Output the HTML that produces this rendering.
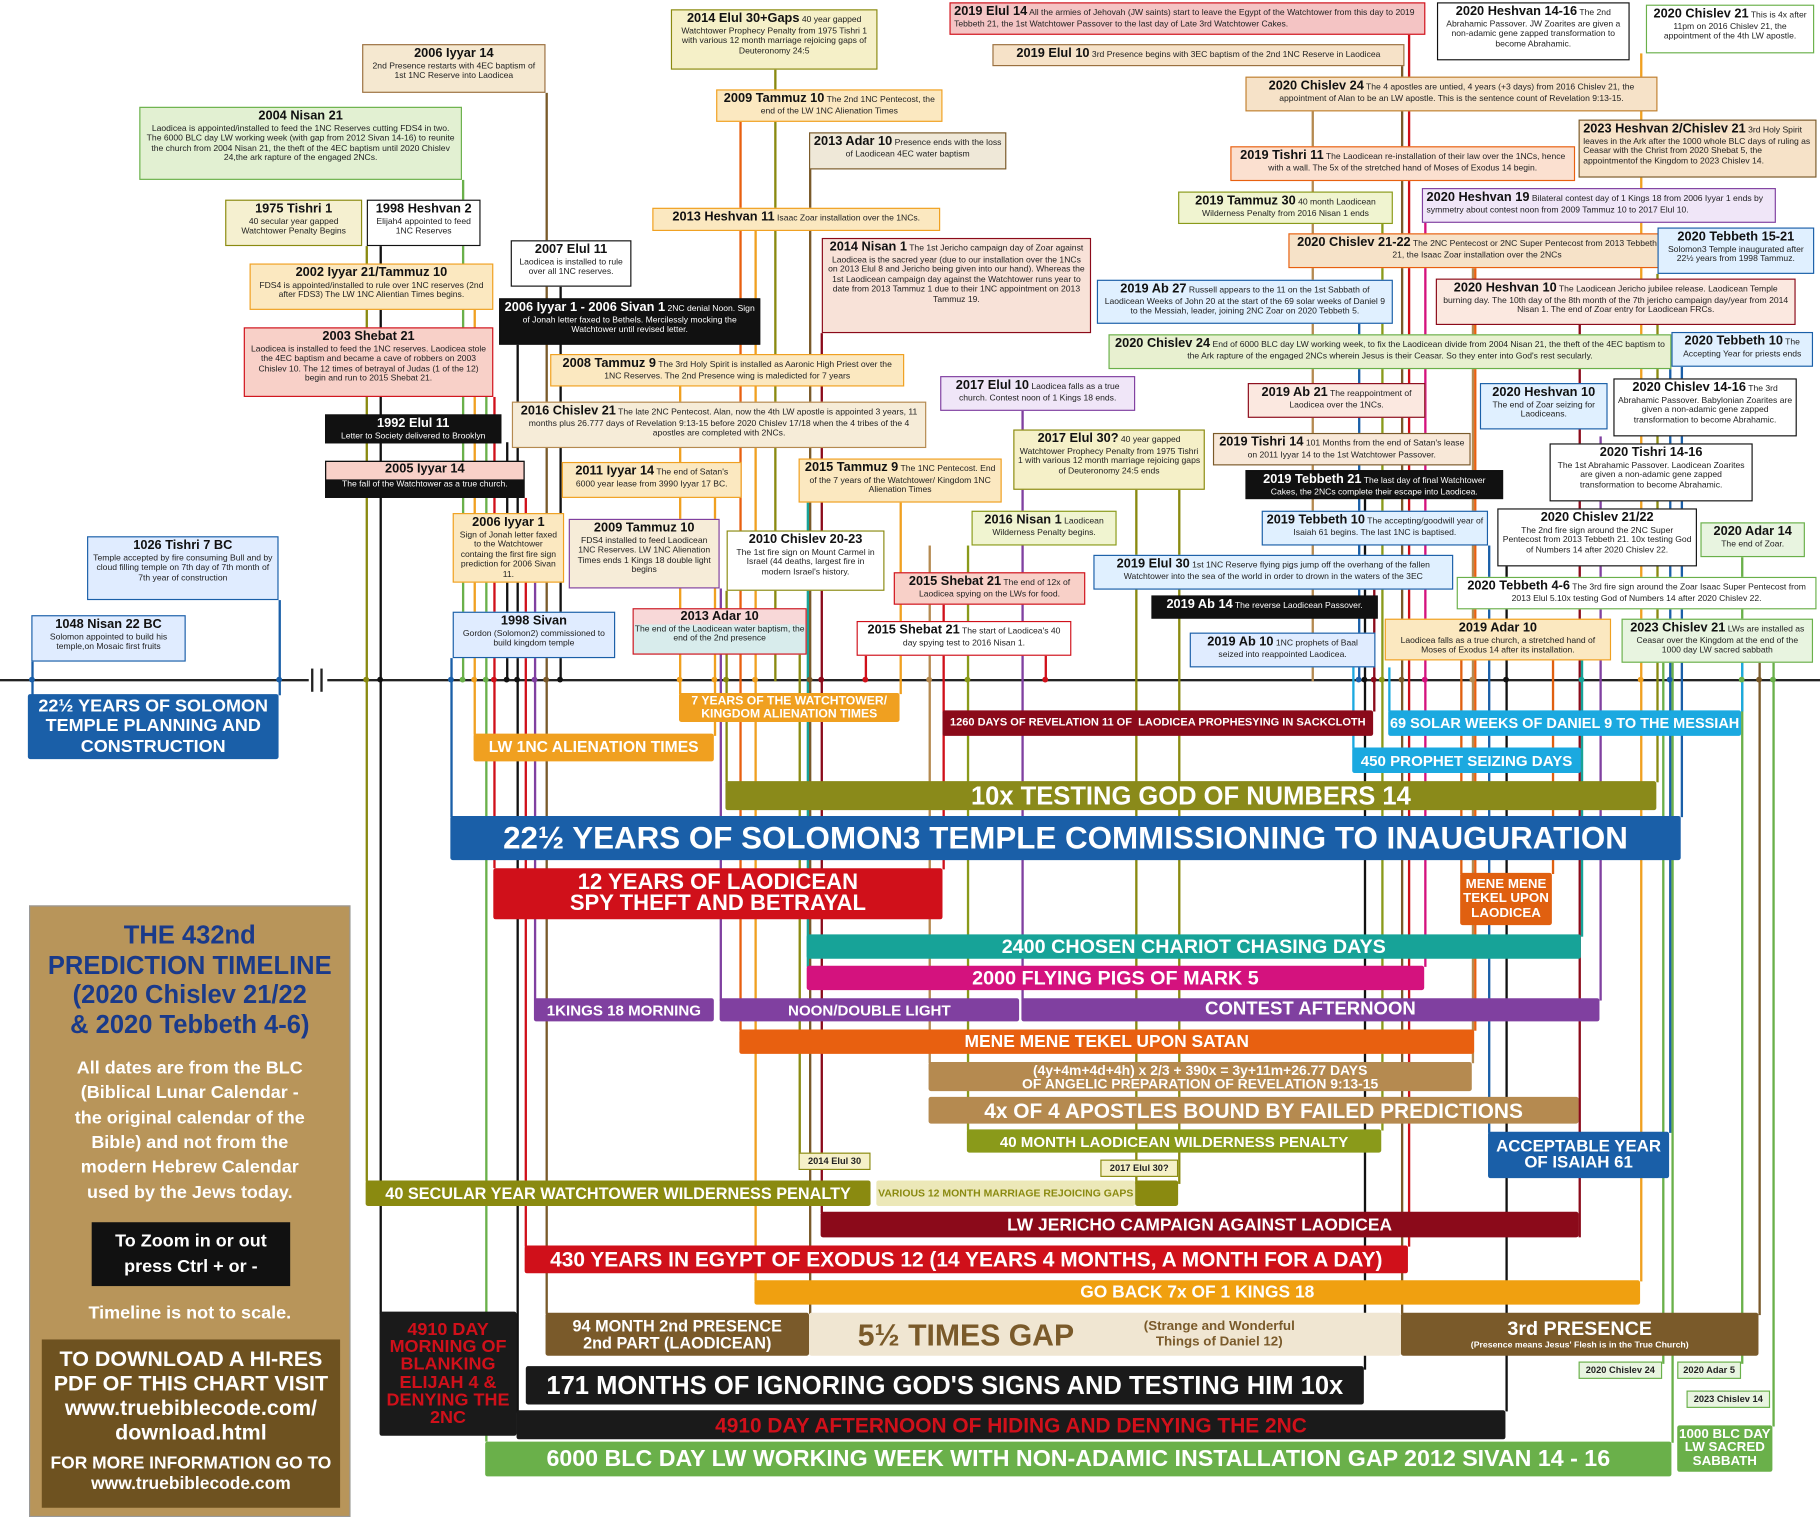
<!DOCTYPE html>
<html><head><meta charset="utf-8">
<style>
html,body{margin:0;padding:0;background:#fff;overflow:hidden;width:1820px;height:1517px}
#s{position:absolute;left:0;top:0;width:1568px;height:1307px;transform:scale(1.16071);transform-origin:0 0;font-family:"Liberation Sans",sans-serif}
.b{position:absolute;border:1.5px solid #888;font-size:7.4px;text-align:center;line-height:1.16;padding:1px 3px;box-sizing:border-box;overflow:hidden;color:#222;z-index:3}
.b b{font-size:11px;color:#111}
.k{background:#111;color:#fff;border-color:#111}.k b{color:#fff}
.r{position:absolute;color:#fff;font-weight:bold;text-align:center;z-index:2;display:flex;align-items:center;justify-content:center;line-height:1;white-space:nowrap;border-radius:2px}
.v{position:absolute;width:1.5px;z-index:1}
.d{position:absolute;width:5px;height:5px;border-radius:50%;z-index:2;margin-left:-2px;top:583px}
</style></head><body><div id="s">

<!-- baseline -->
<div style="position:absolute;left:0;top:585px;width:266px;height:1.5px;background:#222"></div>
<div style="position:absolute;left:282px;top:585px;width:1286px;height:1.5px;background:#222"></div>
<div style="position:absolute;left:268px;top:576px;width:1.5px;height:20px;background:#222"></div>
<div style="position:absolute;left:276px;top:576px;width:1.5px;height:20px;background:#222"></div>

<!-- vertical connectors -->
<div class="v" style="left:27px;top:570px;height:30px;background:#1a5fa8"></div>
<div class="v" style="left:240px;top:517px;height:82px;background:#1a5fa8"></div>
<div class="v" style="left:315px;top:212px;height:806px;background:#8a8a10"></div>
<div class="v" style="left:327px;top:212px;height:920px;background:#111"></div>
<div class="v" style="left:388px;top:567px;height:137px;background:#1a5fa8"></div>
<div class="v" style="left:398px;top:155px;height:432px;background:#6ab04a"></div>
<div class="v" style="left:408px;top:267px;height:366px;background:#f0a020"></div>
<div class="v" style="left:418px;top:342px;height:900px;background:#6ab04a"></div>
<div class="v" style="left:425px;top:342px;height:406px;background:#d0101a"></div>
<div class="v" style="left:436px;top:381px;height:206px;background:#111"></div>
<div class="v" style="left:445px;top:297px;height:920px;background:#111"></div>
<div class="v" style="left:452px;top:429px;height:645px;background:#d0101a"></div>
<div class="v" style="left:460px;top:502px;height:360px;background:#8040a0"></div>
<div class="v" style="left:470px;top:80px;height:1052px;background:#7a5a2a"></div>
<div class="v" style="left:482px;top:247px;height:340px;background:#111"></div>
<div class="v" style="left:585px;top:333px;height:265px;background:#f0a020"></div>
<div class="v" style="left:615px;top:429px;height:205px;background:#f0a020"></div>
<div class="v" style="left:620px;top:507px;height:355px;background:#8040a0"></div>
<div class="v" style="left:625px;top:509px;height:165px;background:#8a8a10"></div>
<div class="v" style="left:637px;top:105px;height:783px;background:#e86010"></div>
<div class="v" style="left:650px;top:199px;height:905px;background:#f0a020"></div>
<div class="v" style="left:667px;top:60px;height:527px;background:#8a8a10"></div>
<div class="v" style="left:688px;top:564px;height:435px;background:#8a8a10"></div>
<div class="v" style="left:695px;top:433px;height:400px;background:#17a398"></div>
<div class="v" style="left:697px;top:146px;height:986px;background:#7a5a2a"></div>
<div class="v" style="left:707px;top:287px;height:758px;background:#8b0a1a"></div>
<div class="v" style="left:745px;top:565px;height:22px;background:#d0101a"></div>
<div class="v" style="left:775px;top:433px;height:165px;background:#f0a020"></div>
<div class="v" style="left:800px;top:470px;height:446px;background:#b58a50"></div>
<div class="v" style="left:812px;top:521px;height:228px;background:#d0101a"></div>
<div class="v" style="left:833px;top:470px;height:504px;background:#8a9a1a"></div>
<div class="v" style="left:880px;top:354px;height:508px;background:#8040a0"></div>
<div class="v" style="left:900px;top:565px;height:22px;background:#d0101a"></div>
<div class="v" style="left:978px;top:422px;height:598px;background:#8a8a10"></div>
<div class="v" style="left:1015px;top:422px;height:598px;background:#8a8a10"></div>
<div class="v" style="left:1130px;top:96px;height:491px;background:#b58a50"></div>
<div class="v" style="left:1165px;top:575px;height:70px;background:#1ba9e0"></div>
<div class="v" style="left:1170px;top:279px;height:308px;background:#1a5fa8"></div>
<div class="v" style="left:1175px;top:430px;height:750px;background:#111"></div>
<div class="v" style="left:1183px;top:508px;height:105px;background:#8b0a1a"></div>
<div class="v" style="left:1190px;top:193px;height:781px;background:#8a9a1a"></div>
<div class="v" style="left:1196px;top:575px;height:38px;background:#1ba9e0"></div>
<div class="v" style="left:1207px;top:56px;height:1076px;background:#7a5a2a"></div>
<div class="v" style="left:1213px;top:30px;height:1044px;background:#d0101a"></div>
<div class="v" style="left:1227px;top:192px;height:641px;background:#d4127e"></div>
<div class="v" style="left:1258px;top:569px;height:184px;background:#e06010"></div>
<div class="v" style="left:1268px;top:231px;height:685px;background:#b58a50"></div>
<div class="v" style="left:1270px;top:231px;height:657px;background:#e86010"></div>
<div class="v" style="left:1282px;top:470px;height:506px;background:#1a5fa8"></div>
<div class="v" style="left:1297px;top:488px;height:728px;background:#111"></div>
<div class="v" style="left:1337px;top:569px;height:184px;background:#e06010"></div>
<div class="v" style="left:1360px;top:280px;height:786px;background:#8b0a1a"></div>
<div class="v" style="left:1362px;top:569px;height:238px;background:#17a398"></div>
<div class="v" style="left:1378px;top:376px;height:486px;background:#8040a0"></div>
<div class="v" style="left:1413px;top:46px;height:1058px;background:#f0a020"></div>
<div class="v" style="left:1427px;top:236px;height:438px;background:#8a8a10"></div>
<div class="v" style="left:1432px;top:571px;height:604px;background:#6ab04a"></div>
<div class="v" style="left:1438px;top:318px;height:658px;background:#1a5fa8"></div>
<div class="v" style="left:1440px;top:571px;height:672px;background:#6ab04a"></div>
<div class="v" style="left:1448px;top:316px;height:388px;background:#1a5fa8"></div>
<div class="v" style="left:1500px;top:480px;height:695px;background:#6ab04a"></div>
<div class="v" style="left:1515px;top:571px;height:562px;background:#7a5a2a"></div>
<div class="v" style="left:1527px;top:571px;height:658px;background:#6ab04a"></div>
<div class="v" style="left:1500px;top:571px;height:42px;background:#1ba9e0"></div>

<!-- dots -->
<div class="d" style="left:27px;background:#1a5fa8"></div><div class="d" style="left:240px;background:#1a5fa8"></div>
<div class="d" style="left:315px;background:#8a8a10"></div><div class="d" style="left:327px;background:#111"></div>
<div class="d" style="left:388px;background:#1a5fa8"></div><div class="d" style="left:398px;background:#6ab04a"></div>
<div class="d" style="left:408px;background:#f0a020"></div><div class="d" style="left:418px;background:#6ab04a"></div>
<div class="d" style="left:425px;background:#d0101a"></div><div class="d" style="left:436px;background:#111"></div>
<div class="d" style="left:445px;background:#111"></div><div class="d" style="left:460px;background:#8040a0"></div>
<div class="d" style="left:470px;background:#7a5a2a"></div><div class="d" style="left:482px;background:#111"></div>
<div class="d" style="left:585px;background:#f0a020"></div><div class="d" style="left:615px;background:#f0a020"></div>
<div class="d" style="left:625px;background:#8a8a10"></div><div class="d" style="left:650px;background:#f0a020"></div>
<div class="d" style="left:697px;background:#7a5a2a"></div><div class="d" style="left:707px;background:#8b0a1a"></div>
<div class="d" style="left:745px;background:#d0101a"></div><div class="d" style="left:800px;background:#b58a50"></div>
<div class="d" style="left:833px;background:#8a9a1a"></div><div class="d" style="left:900px;background:#d0101a"></div>
<div class="d" style="left:1170px;background:#1a5fa8"></div><div class="d" style="left:1175px;background:#111"></div>
<div class="d" style="left:1183px;background:#8b0a1a"></div><div class="d" style="left:1190px;background:#8a9a1a"></div>
<div class="d" style="left:1207px;background:#7a5a2a"></div><div class="d" style="left:1227px;background:#d4127e"></div>
<div class="d" style="left:1268px;background:#b58a50"></div><div class="d" style="left:1297px;background:#111"></div>
<div class="d" style="left:1362px;background:#17a398"></div><div class="d" style="left:1413px;background:#f0a020"></div>
<div class="d" style="left:1438px;background:#1a5fa8"></div><div class="d" style="left:1500px;background:#6ab04a"></div>
<div class="d" style="left:1515px;background:#7a5a2a"></div><div class="d" style="left:1527px;background:#6ab04a"></div>

<!-- top boxes -->
<div class="b" style="left:818px;top:2px;width:410px;height:28px;background:#f4c4c4;border-color:#d0101a;text-align:left"><b>2019 Elul 14</b> All the armies of Jehovah (JW saints) start to leave the Egypt of the Watchtower from this day to 2019 Tebbeth 21, the 1st Watchtower Passover to the last day of Late 3rd Watchtower Cakes.</div>
<div class="b" style="left:855px;top:38px;width:355px;height:19px;background:#f6e2c8;border-color:#9a7040"><b>2019 Elul 10</b> 3rd Presence begins with 3EC baptism of the 2nd 1NC Reserve in Laodicea</div>
<div class="b" style="left:1238px;top:2px;width:166px;height:50px;background:#fff;border-color:#111"><b>2020 Heshvan 14-16</b> The 2nd Abrahamic Passover. JW Zoarites are given a non-adamic gene zapped transformation to become Abrahamic.</div>
<div class="b" style="left:1418px;top:4px;width:145px;height:42px;background:#fff;border-color:#6ab04a"><b>2020 Chislev 21</b> This is 4x after 11pm on 2016 Chislev 21, the appointment of the 4th LW apostle.</div>
<div class="b" style="left:578px;top:8px;width:178px;height:52px;background:#f5f0c8;border-color:#8a8a10"><b>2014 Elul 30+Gaps</b> 40 year gapped Watchtower Prophecy Penalty from 1975 Tishri 1 with various 12 month marriage rejoicing gaps of Deuteronomy 24:5</div>
<div class="b" style="left:312px;top:38px;width:158px;height:42px;background:#f5e8d0;border-color:#9a7040"><b>2006 Iyyar 14</b><br>2nd Presence restarts with 4EC baptism of 1st 1NC Reserve into Laodicea</div>
<div class="b" style="left:120px;top:92px;width:278px;height:63px;background:#e2f0d2;border-color:#6ab04a"><b>2004 Nisan 21</b><br>Laodicea is appointed/installed to feed the 1NC Reserves cutting FDS4 in two. The 6000 BLC day LW working week (with gap from 2012 Sivan 14-16) to reunite the church from 2004 Nisan 21, the theft of the 4EC baptism until 2020 Chislev 24,the ark rapture of the engaged 2NCs.</div>
<div class="b" style="left:1073px;top:66px;width:355px;height:30px;background:#f6e2c8;border-color:#c08030"><b>2020 Chislev 24</b> The 4 apostles are untied, 4 years (+3 days) from 2016 Chislev 21, the appointment of Alan to be an LW apostle. This is the sentence count of Revelation 9:13-15.</div>
<div class="b" style="left:617px;top:77px;width:195px;height:28px;background:#fbe8c0;border-color:#f0a020"><b>2009 Tammuz 10</b> The 2nd 1NC Pentecost, the end of the LW 1NC Alienation Times</div>
<div class="b" style="left:1360px;top:103px;width:205px;height:50px;background:#f6e2c8;border-color:#7a5a2a;text-align:left"><b>2023 Heshvan 2/Chislev 21</b> 3rd Holy Spirit leaves in the Ark after the 1000 whole BLC days of ruling as Ceasar with the Christ from 2020 Shebat 5, the appointmentof the Kingdom to 2023 Chislev 14.</div>
<div class="b" style="left:697px;top:114px;width:170px;height:32px;background:#efe8d8;border-color:#7a5a2a"><b>2013 Adar 10</b> Presence ends with the loss of Laodicean 4EC water baptism</div>
<div class="b" style="left:1060px;top:126px;width:297px;height:30px;background:#fbe0d0;border-color:#e86010"><b>2019 Tishri 11</b> The Laodicean re-installation of their law over the 1NCs, hence with a wall. The 5x of the stretched hand of Moses of Exodus 14 begin.</div>
<div class="b" style="left:194px;top:172px;width:118px;height:40px;background:#f5f0d0;border-color:#8a8a10"><b>1975 Tishri 1</b><br>40 secular year gapped Watchtower Penalty Begins</div>
<div class="b" style="left:316px;top:172px;width:98px;height:40px;background:#fff;border-color:#111"><b>1998 Heshvan 2</b><br>Elijah4 appointed to feed 1NC Reserves</div>
<div class="b" style="left:1015px;top:165px;width:185px;height:28px;background:#f0f4d0;border-color:#8a9a1a"><b>2019 Tammuz 30</b> 40 month Laodicean Wilderness Penalty from 2016 Nisan 1 ends</div>
<div class="b" style="left:1225px;top:162px;width:305px;height:30px;background:#f0e6f8;border-color:#8040a0;text-align:left"><b>2020 Heshvan 19</b> Bilateral contest day of 1 Kings 18 from 2006 Iyyar 1 ends by symmetry about contest noon from 2009 Tammuz 10 to 2017 Elul 10.</div>
<div class="b" style="left:562px;top:179px;width:248px;height:20px;background:#fbe8c0;border-color:#f0a020"><b>2013 Heshvan 11</b> Isaac Zoar installation over the 1NCs.</div>
<div class="b" style="left:440px;top:207px;width:104px;height:40px;background:#fff;border-color:#111"><b>2007 Elul 11</b><br>Laodicea is installed to rule over all 1NC reserves.</div>
<div class="b" style="left:708px;top:205px;width:232px;height:82px;background:#f8e2d8;border-color:#8b0a1a"><b>2014 Nisan 1</b> The 1st Jericho campaign day of Zoar against Laodicea is the sacred year (due to our installation over the 1NCs on 2013 Elul 8 and Jericho being given into our hand). Whereas the 1st Laodicean campaign day against the Watchtower runs year to date from 2013 Tammuz 1 due to their 1NC appointment on 2013 Tammuz 19.</div>
<div class="b" style="left:1110px;top:201px;width:325px;height:30px;background:#f6e2c8;border-color:#e86010"><b>2020 Chislev 21-22</b> The 2NC Pentecost or 2NC Super Pentecost from 2013 Tebbeth 21, the Isaac Zoar installation over the 2NCs</div>
<div class="b" style="left:1428px;top:196px;width:135px;height:40px;background:#e0f0ff;border-color:#1a5fa8"><b>2020 Tebbeth 15-21</b> Solomon3 Temple inaugurated after 22½ years from 1998 Tammuz.</div>
<div class="b" style="left:215px;top:227px;width:210px;height:40px;background:#fbe8c0;border-color:#f0a020"><b>2002 Iyyar 21/Tammuz 10</b><br>FDS4 is appointed/installed to rule over 1NC reserves (2nd after FDS3) The LW 1NC Alientian Times begins.</div>
<div class="b k" style="left:430px;top:257px;width:225px;height:40px"><b>2006 Iyyar 1 - 2006 Sivan 1</b> 2NC denial Noon. Sign of Jonah letter faxed to Bethels. Mercilessly mocking the Watchtower until revised letter.</div>
<div class="b" style="left:945px;top:241px;width:255px;height:38px;background:#e0f0ff;border-color:#1a5fa8"><b>2019 Ab 27</b> Russell appears to the 11 on the 1st Sabbath of Laodicean Weeks of John 20 at the start of the 69 solar weeks of Daniel 9 to the Messiah, leader, joining 2NC Zoar on 2020 Tebbeth 5.</div>
<div class="b" style="left:1237px;top:240px;width:310px;height:40px;background:#fbe8e0;border-color:#8b0a1a"><b>2020 Heshvan 10</b> The Laodicean Jericho jubilee release. Laodicean Temple burning day. The 10th day of the 8th month of the 7th jericho campaign day/year from 2014 Nisan 1. The end of Zoar entry for Laodicean FRCs.</div>
<div class="b" style="left:210px;top:282px;width:215px;height:60px;background:#f8d0c8;border-color:#d0101a"><b>2003 Shebat 21</b><br>Laodicea is installed to feed the 1NC reserves. Laodicea stole the 4EC baptism and became a cave of robbers on 2003 Chislev 10. The 12 times of betrayal of Judas (1 of the 12) begin and run to 2015 Shebat 21.</div>
<div class="b" style="left:955px;top:288px;width:485px;height:30px;background:#e8f0d0;border-color:#6ab04a"><b>2020 Chislev 24</b> End of 6000 BLC day LW working week, to fix the Laodicean divide from 2004 Nisan 21, the theft of the 4EC baptism to the Ark rapture of the engaged 2NCs wherein Jesus is their Ceasar. So they enter into God's rest secularly.</div>
<div class="b" style="left:1440px;top:286px;width:122px;height:30px;background:#e0f0ff;border-color:#1a5fa8"><b>2020 Tebbeth 10</b> The Accepting Year for priests ends</div>
<div class="b" style="left:474px;top:305px;width:305px;height:28px;background:#fbe8c0;border-color:#f0a020"><b>2008 Tammuz 9</b> The 3rd Holy Spirit is installed as Aaronic High Priest over the 1NC Reserves. The 2nd Presence wing is maledicted for 7 years</div>
<div class="b" style="left:810px;top:324px;width:168px;height:30px;background:#f0e6f8;border-color:#8040a0"><b>2017 Elul 10</b> Laodicea falls as a true church. Contest noon of 1 Kings 18 ends.</div>
<div class="b" style="left:1075px;top:330px;width:153px;height:30px;background:#fbe8e0;border-color:#8b0a1a"><b>2019 Ab 21</b> The reappointment of Laodicea over the 1NCs.</div>
<div class="b" style="left:1275px;top:330px;width:110px;height:40px;background:#e0f0ff;border-color:#1a5fa8"><b>2020 Heshvan 10</b> The end of Zoar seizing for Laodiceans.</div>
<div class="b" style="left:1390px;top:326px;width:158px;height:50px;background:#fff;border-color:#111"><b>2020 Chislev 14-16</b> The 3rd Abrahamic Passover. Babylonian Zoarites are given a non-adamic gene zapped transformation to become Abrahamic.</div>
<div class="b" style="left:441px;top:346px;width:357px;height:40px;background:#f6ecd8;border-color:#b58a50"><b>2016 Chislev 21</b> The late 2NC Pentecost. Alan, now the 4th LW apostle is appointed 3 years, 11 months plus 26.777 days of Revelation 9:13-15 before 2020 Chislev 17/18 when the 4 tribes of the 4 apostles are completed with 2NCs.</div>
<div class="b k" style="left:280px;top:357px;width:152px;height:25px"><b>1992 Elul 11</b><br>Letter to Society delivered to Brooklyn</div>
<div class="b" style="left:873px;top:370px;width:165px;height:52px;background:#f5f0c8;border-color:#8a8a10"><b>2017 Elul 30?</b> 40 year gapped Watchtower Prophecy Penalty from 1975 Tishri 1 with various 12 month marriage rejoicing gaps of Deuteronomy 24:5 ends</div>
<div class="b" style="left:1045px;top:373px;width:222px;height:28px;background:#f8e8d8;border-color:#7a5a2a"><b>2019 Tishri 14</b> 101 Months from the end of Satan's lease on 2011 Iyyar 14 to the 1st Watchtower Passover.</div>
<div class="b" style="left:1335px;top:382px;width:175px;height:50px;background:#fff;border-color:#111"><b>2020 Tishri 14-16</b><br>The 1st Abrahamic Passover. Laodicean Zoarites are given a non-adamic gene zapped transformation to become Abrahamic.</div>
<div class="b" style="left:280px;top:397px;width:172px;height:32px;background:#111;border-color:#111;color:#fff;padding:0"><div style="background:#f8d0c8;color:#111;height:15px"><b>2005 Iyyar 14</b></div>The fall of the Watchtower as a true church.</div>
<div class="b" style="left:484px;top:398px;width:155px;height:31px;background:#fbe8c0;border-color:#f0a020"><b>2011 Iyyar 14</b> The end of Satan's 6000 year lease from 3990 Iyyar 17 BC.</div>
<div class="b" style="left:688px;top:395px;width:175px;height:38px;background:#fbe8c0;border-color:#f0a020"><b>2015 Tammuz 9</b> The 1NC Pentecost. End of the 7 years of the Watchtower/ Kingdom 1NC Alienation Times</div>
<div class="b k" style="left:1073px;top:405px;width:222px;height:25px"><b>2019 Tebbeth 21</b> The last day of final Watchtower Cakes, the 2NCs complete their escape into Laodicea.</div>
<div class="b" style="left:390px;top:442px;width:96px;height:60px;background:#fbe8c0;border-color:#f0a020"><b>2006 Iyyar 1</b><br>Sign of Jonah letter faxed to the Watchtower containg the first fire sign prediction for 2006 Sivan 11.</div>
<div class="b" style="left:490px;top:447px;width:130px;height:60px;background:#f6ecd8;border-color:#8040a0"><b>2009 Tammuz 10</b><br>FDS4 installed to feed Laodicean 1NC Reserves. LW 1NC Alienation Times ends 1 Kings 18 double light begins</div>
<div class="b" style="left:837px;top:440px;width:125px;height:30px;background:#f0f4d0;border-color:#8a9a1a"><b>2016 Nisan 1</b> Laodicean Wilderness Penalty begins.</div>
<div class="b" style="left:1087px;top:440px;width:195px;height:30px;background:#e0f0ff;border-color:#1a5fa8"><b>2019 Tebbeth 10</b> The accepting/goodwill year of Isaiah 61 begins. The last 1NC is baptised.</div>
<div class="b" style="left:1290px;top:438px;width:172px;height:50px;background:#fff;border-color:#111"><b>2020 Chislev 21/22</b><br>The 2nd fire sign around the 2NC Super Pentecost from 2013 Tebbeth 21. 10x testing God of Numbers 14 after 2020 Chislev 22.</div>
<div class="b" style="left:1465px;top:450px;width:90px;height:30px;background:#e8f4e0;border-color:#6ab04a"><b>2020 Adar 14</b><br>The end of Zoar.</div>
<div class="b" style="left:626px;top:457px;width:136px;height:52px;background:#fff;border-color:#8a8a10"><b>2010 Chislev 20-23</b><br>The 1st fire sign on Mount Carmel in Israel (44 deaths, largest fire in modern Israel's history.</div>
<div class="b" style="left:942px;top:478px;width:310px;height:30px;background:#e0f0ff;border-color:#1a5fa8"><b>2019 Elul 30</b> 1st 1NC Reserve flying pigs jump off the overhang of the fallen Watchtower into the sea of the world in order to drown in the waters of the 3EC</div>
<div class="b" style="left:770px;top:493px;width:165px;height:28px;background:#f8d0c8;border-color:#d0101a"><b>2015 Shebat 21</b> The end of 12x of Laodicea spying on the LWs for food.</div>
<div class="b" style="left:75px;top:462px;width:165px;height:55px;background:#e0ecff;border-color:#1a5fa8"><b>1026 Tishri 7 BC</b><br>Temple accepted by fire consuming Bull and by cloud filling temple on 7th day of 7th month of 7th year of construction</div>
<div class="b" style="left:1255px;top:497px;width:310px;height:28px;background:#fff;border-color:#6ab04a"><b>2020 Tebbeth 4-6</b> The 3rd fire sign around the Zoar Isaac Super Pentecost from 2013 Elul 5.10x testing God of Numbers 14 after 2020 Chislev 22.</div>
<div class="b k" style="left:992px;top:513px;width:195px;height:20px"><b>2019 Ab 14</b> The reverse Laodicean Passover.</div>
<div class="b" style="left:27px;top:530px;width:133px;height:40px;background:#e0ecff;border-color:#1a5fa8"><b>1048 Nisan 22 BC</b><br>Solomon appointed to build his temple,on Mosaic first fruits</div>
<div class="b" style="left:390px;top:527px;width:140px;height:40px;background:#e0ecff;border-color:#1a5fa8"><b>1998 Sivan</b><br>Gordon (Solomon2) commissioned to build kingdom temple</div>
<div class="b" style="left:545px;top:524px;width:150px;height:40px;background:#d8ecec;border-color:#d0101a;padding:0"><div style="background:#f8d8d8"><b>2013 Adar 10</b></div>The end of the Laodicean water baptism, the end of the 2nd presence</div>
<div class="b" style="left:738px;top:535px;width:185px;height:30px;background:#fff;border-color:#d0101a"><b>2015 Shebat 21</b> The start of Laodicea's 40 day spying test to 2016 Nisan 1.</div>
<div class="b" style="left:1025px;top:545px;width:160px;height:30px;background:#e0ecff;border-color:#1a5fa8"><b>2019 Ab 10</b> 1NC prophets of Baal seized into reappointed Laodicea.</div>
<div class="b" style="left:1193px;top:533px;width:195px;height:36px;background:#fbe8c0;border-color:#f0a020"><b>2019 Adar 10</b><br>Laodicea falls as a true church, a stretched hand of Moses of Exodus 14 after its installation.</div>
<div class="b" style="left:1397px;top:533px;width:165px;height:38px;background:#e8f4e0;border-color:#6ab04a"><b>2023 Chislev 21</b> LWs are installed as Ceasar over the Kingdom at the end of the 1000 day LW sacred sabbath</div>

<!-- bars -->
<div class="r" style="left:24px;top:598px;width:216px;height:56px;background:#1a5fa8;font-size:15.5px;white-space:normal;line-height:1.1">22½ YEARS OF SOLOMON TEMPLE PLANNING AND CONSTRUCTION</div>
<div class="r" style="left:585px;top:597px;width:190px;height:25px;background:#f0a020;font-size:10.5px;white-space:normal;line-height:1">7 YEARS OF THE WATCHTOWER/ KINGDOM ALIENATION TIMES</div>
<div class="r" style="left:408px;top:632px;width:207px;height:24px;background:#f0a020;font-size:13.5px">LW 1NC ALIENATION TIMES</div>
<div class="r" style="left:812px;top:612px;width:371px;height:22px;background:#8b0a1a;font-size:9.5px">1260 DAYS OF REVELATION 11 OF &nbsp;LAODICEA PROPHESYING IN SACKCLOTH</div>
<div class="r" style="left:1196px;top:612px;width:304px;height:22px;background:#1ba9e0;font-size:12.5px">69 SOLAR WEEKS OF DANIEL 9 TO THE MESSIAH</div>
<div class="r" style="left:1165px;top:644px;width:197px;height:22px;background:#1ba9e0;font-size:13px">450 PROPHET SEIZING DAYS</div>
<div class="r" style="left:625px;top:673px;width:802px;height:25px;background:#8a8a1a;font-size:22px">10x TESTING GOD OF NUMBERS 14</div>
<div class="r" style="left:388px;top:703px;width:1060px;height:38px;background:#1a5fa8;font-size:27px">22½ YEARS OF SOLOMON3 TEMPLE COMMISSIONING TO INAUGURATION</div>
<div class="r" style="left:425px;top:748px;width:387px;height:44px;background:#d0101a;font-size:19px;white-space:normal;line-height:0.95">12 YEARS OF LAODICEAN<br>SPY THEFT AND BETRAYAL</div>
<div class="r" style="left:1258px;top:752px;width:79px;height:45px;background:#e06010;font-size:11.5px;white-space:normal;line-height:1.05">MENE MENE TEKEL UPON LAODICEA</div>
<div class="r" style="left:695px;top:805px;width:667px;height:21px;background:#17a398;font-size:17px">2400 CHOSEN CHARIOT CHASING DAYS</div>
<div class="r" style="left:695px;top:832px;width:532px;height:21px;background:#d4127e;font-size:17px">2000 FLYING PIGS OF MARK 5</div>
<div class="r" style="left:460px;top:860px;width:155px;height:20px;background:#8040a0;font-size:13px">1KINGS 18 MORNING</div>
<div class="r" style="left:620px;top:860px;width:258px;height:20px;background:#8040a0;font-size:13px">NOON/DOUBLE LIGHT</div>
<div class="r" style="left:880px;top:860px;width:498px;height:20px;background:#8040a0;font-size:16px">CONTEST AFTERNOON</div>
<div class="r" style="left:637px;top:887px;width:633px;height:21px;background:#e86010;font-size:15px">MENE MENE TEKEL UPON SATAN</div>
<div class="r" style="left:800px;top:915px;width:468px;height:25px;background:#b58a50;font-size:12px;white-space:normal;line-height:1">(4y+4m+4d+4h) x 2/3 + 390x = 3y+11m+26.77 DAYS<br>OF ANGELIC PREPARATION OF REVELATION 9:13-15</div>
<div class="r" style="left:800px;top:945px;width:560px;height:23px;background:#b58a50;font-size:18px">4x OF 4 APOSTLES BOUND BY FAILED PREDICTIONS</div>
<div class="r" style="left:833px;top:973px;width:357px;height:20px;background:#8a9a1a;font-size:13px">40 MONTH LAODICEAN WILDERNESS PENALTY</div>
<div class="r" style="left:1282px;top:975px;width:156px;height:40px;background:#1a5fa8;font-size:14.5px;white-space:normal;line-height:1">ACCEPTABLE YEAR<br>OF ISAIAH 61</div>
<div class="b" style="left:688px;top:993px;width:62px;height:15px;background:#f5f0c8;border-color:#8a8a10;font-size:8px;font-weight:bold;padding:2px 1px">2014 Elul 30</div>
<div class="b" style="left:948px;top:999px;width:67px;height:15px;background:#f5f0c8;border-color:#8a8a10;font-size:8px;font-weight:bold;padding:2px 1px">2017 Elul 30?</div>
<div class="r" style="left:315px;top:1017px;width:435px;height:22px;background:#8a8a10;font-size:14px">40 SECULAR YEAR WATCHTOWER WILDERNESS PENALTY</div>
<div class="r" style="left:755px;top:1017px;width:223px;height:22px;background:#ece8b8;color:#8a8a10;font-size:9px">VARIOUS 12 MONTH MARRIAGE REJOICING GAPS</div>
<div class="r" style="left:978px;top:1017px;width:37px;height:22px;background:#8a8a10"></div>
<div class="r" style="left:707px;top:1044px;width:653px;height:22px;background:#8b0a1a;font-size:15px">LW JERICHO CAMPAIGN AGAINST LAODICEA</div>
<div class="r" style="left:452px;top:1073px;width:761px;height:24px;background:#d0101a;font-size:18px">430 YEARS IN EGYPT OF EXODUS 12 (14 YEARS 4 MONTHS, A MONTH FOR A DAY)</div>
<div class="r" style="left:650px;top:1103px;width:763px;height:21px;background:#f0a010;font-size:15px">GO BACK 7x OF 1 KINGS 18</div>
<div class="r" style="left:470px;top:1131px;width:227px;height:37px;background:#7a5a2a;font-size:14px;white-space:normal;line-height:1.05">94 MONTH 2nd PRESENCE<br>2nd PART (LAODICEAN)</div>
<div class="r" style="left:697px;top:1131px;width:510px;height:37px;background:#f0e6d2;color:#7a5a2a;justify-content:flex-start"><span style="font-size:26px;margin-left:42px">5½ TIMES GAP</span><span style="font-size:11.5px;margin-left:60px;text-align:center;line-height:1.1">(Strange and Wonderful<br>Things of Daniel 12)</span></div>
<div class="r" style="left:1207px;top:1131px;width:308px;height:37px;background:#7a5a2a;flex-direction:column"><span style="font-size:17px">3rd PRESENCE</span><span style="font-size:7.5px;margin-top:2px">(Presence means Jesus' Flesh is in the True Church)</span></div>
<div class="r" style="left:327px;top:1130px;width:118px;height:107px;background:#1a1a1a;color:#d0101a;font-size:15.5px;white-space:normal;line-height:0.98">4910 DAY MORNING OF BLANKING ELIJAH 4 &amp; DENYING THE 2NC</div>
<div class="r" style="left:453px;top:1177px;width:722px;height:33px;background:#1a1a1a;font-size:22px">171 MONTHS OF IGNORING GOD'S SIGNS AND TESTING HIM 10x</div>
<div class="r" style="left:445px;top:1215px;width:852px;height:25px;background:#1a1a1a;color:#d0101a;font-size:18px">4910 DAY AFTERNOON OF HIDING AND DENYING THE 2NC</div>
<div class="b" style="left:1360px;top:1173px;width:72px;height:15px;background:#e8f4e0;border-color:#6ab04a;font-size:8px;font-weight:bold;padding:2px 1px">2020 Chislev 24</div>
<div class="b" style="left:1445px;top:1173px;width:55px;height:15px;background:#e8f4e0;border-color:#6ab04a;font-size:8px;font-weight:bold;padding:2px 1px">2020 Adar 5</div>
<div class="b" style="left:1453px;top:1198px;width:72px;height:15px;background:#e8f4e0;border-color:#6ab04a;font-size:8px;font-weight:bold;padding:2px 1px">2023 Chislev 14</div>
<div class="r" style="left:418px;top:1242px;width:1022px;height:30px;background:#6ab04a;font-size:20px">6000 BLC DAY LW WORKING WEEK WITH NON-ADAMIC INSTALLATION GAP 2012 SIVAN 14 - 16</div>
<div class="r" style="left:1445px;top:1228px;width:82px;height:40px;background:#6ab04a;font-size:11.5px;white-space:normal;line-height:1">1000 BLC DAY LW SACRED SABBATH</div>

<!-- left panel -->
<div style="position:absolute;left:25px;top:780px;width:277px;height:527px;border:1px solid #999;box-sizing:border-box;background:#b8955a;z-index:3">
 <div style="text-align:center;color:#1a3a8a;font-weight:bold;font-size:22px;line-height:1.17;margin-top:12px">THE 432nd<br>PREDICTION TIMELINE<br>(2020 Chislev 21/22<br>&amp; 2020 Tebbeth 4-6)</div>
 <div style="text-align:center;color:#fff;font-weight:bold;font-size:15.5px;line-height:1.38;margin-top:14px">All dates are from the BLC<br>(Biblical Lunar Calendar -<br>the original calendar of the<br>Bible) and not from the<br>modern Hebrew Calendar<br>used by the Jews today.</div>
 <div style="position:absolute;left:53px;top:272px;width:171px;height:55px;background:#111;color:#fff;font-weight:bold;font-size:15.5px;text-align:center;line-height:1.4;display:flex;align-items:center;justify-content:center">To Zoom in or out<br>press Ctrl + or -</div>
 <div style="position:absolute;left:0;top:342px;width:100%;text-align:center;color:#fff;font-weight:bold;font-size:15.5px">Timeline is not to scale.</div>
 <div style="position:absolute;left:10px;top:373px;width:257px;height:145px;background:#6e5220;color:#fff;font-weight:bold;text-align:center">
  <div style="font-size:18.5px;line-height:1.13;margin-top:7px">TO DOWNLOAD A HI-RES<br>PDF OF THIS CHART VISIT<br>www.truebiblecode.com/<br>download.html</div>
  <div style="font-size:15px;line-height:1.25;margin-top:7px">FOR MORE INFORMATION GO TO<br>www.truebiblecode.com</div>
 </div>
</div>

</div></body></html>
